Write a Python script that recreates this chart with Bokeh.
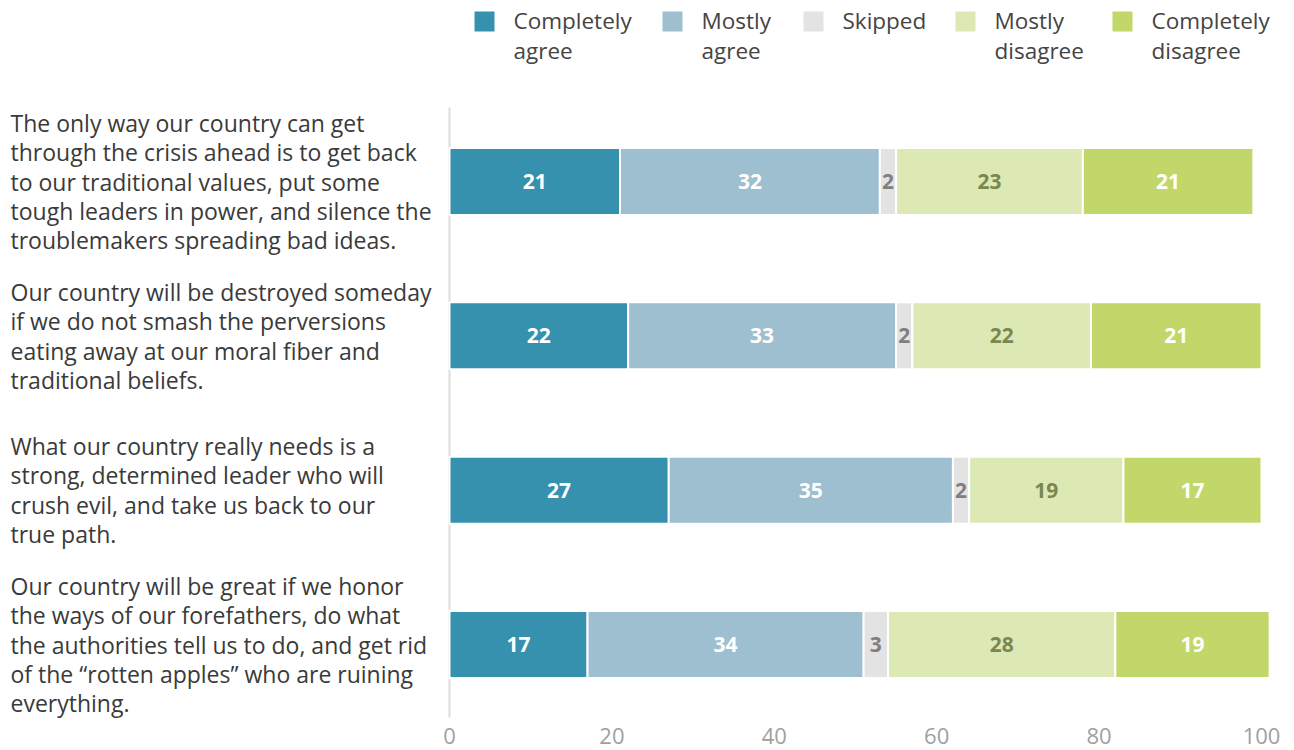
from bokeh.plotting import figure
from bokeh.models import Range1d, FixedTicker, ColumnDataSource, LabelSet
from bokeh.core.properties import value
from bokeh.embed import file_html
from bokeh.resources import INLINE
import numpy as np

# ---- data ----
statements = [
    "The only way our country can get\nthrough the crisis ahead is to get back\nto our traditional values, put some\ntough leaders in power, and silence the\ntroublemakers spreading bad ideas.",
    "Our country will be destroyed someday\nif we do not smash the perversions\neating away at our moral fiber and\ntraditional beliefs.",
    "What our country really needs is a\nstrong, determined leader who will\ncrush evil, and take us back to our\ntrue path.",
    "Our country will be great if we honor\nthe ways of our forefathers, do what\nthe authorities tell us to do, and get rid\nof the \u201crotten apples\u201d who are ruining\neverything.",
]
series_names = ["Completely agree", "Mostly agree", "Skipped", "Mostly disagree", "Completely disagree"]
legend_labels = ["Completely\nagree", "Mostly\nagree", "Skipped", "Mostly\ndisagree", "Completely\ndisagree"]
completely_agree = [21, 22, 27, 17]
mostly_agree = [32, 33, 35, 34]
skipped = [2, 2, 2, 3]
mostly_disagree = [23, 22, 19, 28]
completely_disagree = [21, 21, 17, 19]
x_ticks = [0, 20, 40, 60, 80, 100]

colors = ["#3591ae", "#9ebfcf", "#e3e3e3", "#dce9b4", "#c2d76a"]
label_colors = ["#ffffff", "#ffffff", "#808080", "#7a8750", "#ffffff"]

# ---- layout helpers (pixel -> data) ----
W, H = 1294, 750
BOTTOM = 32
FH = H - BOTTOM
x0_px, x100_px = 449.0, 1261.0
ppx = (x100_px - x0_px) / 100.0
row_px = [181.0, 336.0, 489.5, 644.0]
ppy = (row_px[-1] - row_px[0]) / 3.0

def dx(px):
    return (px - x0_px) / ppx

def dy(py):
    return (py - row_px[0]) / ppy

p = figure(width=W, height=H, output_backend="svg", toolbar_location=None,
           x_range=Range1d(dx(0), dx(W)), y_range=Range1d(dy(FH), dy(0)),
           min_border_left=0, min_border_right=0, min_border_top=0, min_border_bottom=BOTTOM)
p.outline_line_color = None
p.background_fill_color = "white"
p.border_fill_color = "white"
p.xgrid.visible = False
p.ygrid.visible = False
p.yaxis.visible = False
p.xaxis.ticker = FixedTicker(ticks=x_ticks)
p.xaxis.axis_line_color = None
p.xaxis.major_tick_line_color = None
p.xaxis.minor_tick_line_color = None
p.xaxis.major_tick_out = 0
p.xaxis.major_tick_in = 0
p.xaxis.major_label_standoff = 9
p.xaxis.major_label_text_line_height = 0.5
p.xaxis.major_label_text_font = "Open Sans"
p.xaxis.major_label_text_font_size = "22px"
p.xaxis.major_label_text_color = "#a0a0a0"
p.xaxis.major_label_text_font_style = "normal"

# vertical axis line
p.segment(x0=[0], x1=[0], y0=[dy(107)], y1=[dy(717)], line_color="#dddddd", line_width=2)

series = [completely_agree, mostly_agree, skipped, mostly_disagree, completely_disagree]
rows = np.arange(len(statements))
left = np.zeros(len(statements))
bar_h = 67.0 / ppy
for i, vals in enumerate(series):
    vals = np.array(vals, dtype=float)
    right = left + vals
    src = ColumnDataSource(dict(y=rows, left=left, right=right,
                                mid=(left + right) / 2, lab=[str(int(v)) for v in vals]))
    p.hbar(y="y", left="left", right="right", height=bar_h, source=src,
           fill_color=colors[i], line_color="white", line_width=2)
    p.text(x="mid", y="y", text="lab", source=src, text_align="center", text_baseline="middle",
           text_font=value("Open Sans"), text_font_size="21px", text_font_style="bold",
           text_color=label_colors[i])
    left = right

# statement labels
st_src = ColumnDataSource(dict(x=[dx(10)] * len(statements), y=rows, t=statements))
p.add_layout(LabelSet(x="x", y="y", text="t", source=st_src, text_align="left",
                      text_baseline="middle", text_font=value("Open Sans"), text_font_size="23px",
                      text_line_height=0.917, text_color="#3a3a3a"))

# legend
sq_px = [484, 672, 813, 965, 1122]
p.rect(x=[dx(v) for v in sq_px], y=[dy(21)] * 5, width=20 / ppx, height=20 / ppy,
       fill_color=colors, line_color=None)
lg_src = ColumnDataSource(dict(x=[dx(v + 29) for v in sq_px], y=[dy(4)] * 5, t=legend_labels))
p.add_layout(LabelSet(x="x", y="y", text="t", source=lg_src, text_align="left",
                      text_baseline="top", text_font=value("Open Sans"), text_font_size="22.5px",
                      text_line_height=0.98, text_color="#444444"))

open("out.html", "w").write(file_html(p, INLINE))
